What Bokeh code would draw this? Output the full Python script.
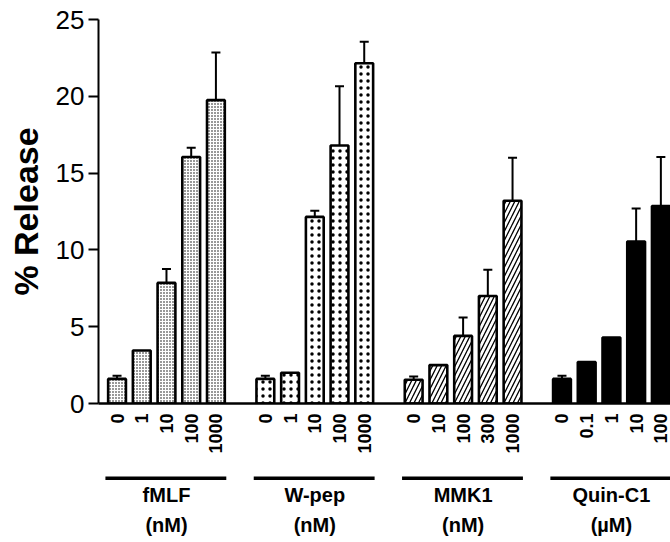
import math
from bokeh.plotting import figure
from bokeh.models import (ColumnDataSource, Range1d, FixedTicker, Whisker, TeeHead)
from bokeh.layouts import column
from bokeh.core.properties import value
from bokeh.embed import file_html
from bokeh.resources import INLINE

# ---------------- data ----------------
groups = ["fMLF", "W-pep", "MMK1", "Quin-C1"]
units = ["(nM)", "(nM)", "(nM)", "(\u00b5M)"]

fmlf_conc = ["0", "1", "10", "100", "1000"]
wpep_conc = ["0", "1", "10", "100", "1000"]
mmk1_conc = ["0", "10", "100", "300", "1000"]
quin_conc = ["0", "0.1", "1", "10", "100"]

fmlf_release = [1.6, 3.45, 7.85, 16.05, 19.75]
wpep_release = [1.6, 2.0, 12.15, 16.8, 22.15]
mmk1_release = [1.55, 2.5, 4.4, 7.0, 13.2]
quin_release = [1.6, 2.7, 4.3, 10.55, 12.85]

fmlf_sem = [0.2, 0.0, 0.9, 0.6, 3.1]
wpep_sem = [0.2, 0.0, 0.4, 3.85, 1.4]
mmk1_sem = [0.2, 0.0, 1.2, 1.7, 2.8]
quin_sem = [0.2, 0.0, 0.0, 2.15, 3.2]

y_ticks = [0, 5, 10, 15, 20, 25]

conc_all = [fmlf_conc, wpep_conc, mmk1_conc, quin_conc]
rel_all = [fmlf_release, wpep_release, mmk1_release, quin_release]
sem_all = [fmlf_sem, wpep_sem, mmk1_sem, quin_sem]

# ---------------- styles ----------------
FONT = "Liberation Sans"
group_styles = [
    dict(fill_color="white", hatch_pattern="dot", hatch_scale=3, hatch_weight=1.0, hatch_color="black"),
    dict(fill_color="white", hatch_pattern="dot", hatch_scale=7, hatch_weight=0.6, hatch_color="black"),
    dict(fill_color="white", hatch_pattern="right_diagonal_line", hatch_scale=9, hatch_weight=1.3, hatch_color="black"),
    dict(fill_color="black", hatch_pattern=None),
]
SLOT = 6  # 5 bars + 1 gap per group

x_range = Range1d(-0.75, 22.39)

p = figure(width=670, height=463, x_range=x_range, y_range=Range1d(0, 25),
           output_backend="svg", toolbar_location=None,
           min_border_left=98, min_border_right=0, min_border_top=19, min_border_bottom=60)
p.outline_line_color = None
p.xgrid.visible = False
p.ygrid.visible = False
p.background_fill_color = "white"
p.border_fill_color = "white"

ticks = []
overrides = {}
for g in range(len(groups)):
    xs = [g * SLOT + i for i in range(len(rel_all[g]))]
    src = ColumnDataSource(dict(x=xs, top=rel_all[g]))
    st = group_styles[g]
    kw = dict(x="x", top="top", bottom=0, width=0.72, source=src,
              line_color="black", line_width=2.6, fill_color=st["fill_color"])
    if st.get("hatch_pattern"):
        kw.update(hatch_pattern=st["hatch_pattern"], hatch_scale=st["hatch_scale"],
                  hatch_weight=st["hatch_weight"], hatch_color=st["hatch_color"])
    p.vbar(**kw)
    ex, elo, ehi = [], [], []
    for x, v, e in zip(xs, rel_all[g], sem_all[g]):
        if e > 0:
            ex.append(x); elo.append(v); ehi.append(v + e)
    esrc = ColumnDataSource(dict(x=ex, lower=elo, upper=ehi))
    p.add_layout(Whisker(source=esrc, base="x", lower="lower", upper="upper",
                         line_width=2, line_color="black", lower_head=None,
                         upper_head=TeeHead(size=9, line_width=2, line_color="black")))
    for x, lab in zip(xs, conc_all[g]):
        ticks.append(x)
        overrides[x] = lab

# x axis
xa = p.xaxis[0]
xa.ticker = FixedTicker(ticks=ticks)
xa.major_label_overrides = overrides
xa.major_label_orientation = math.pi / 2
xa.major_label_text_font = FONT
xa.major_label_text_font_style = "bold"
xa.major_label_text_font_size = "18px"
xa.major_label_text_color = "black"
xa.major_label_standoff = 10
xa.major_tick_out = 0
xa.major_tick_in = 0
xa.minor_tick_out = 0
xa.minor_tick_in = 0
xa.axis_line_width = 2.5
xa.axis_line_color = "black"

# y axis
ya = p.yaxis[0]
ya.ticker = FixedTicker(ticks=y_ticks)
ya.major_label_text_font = FONT
ya.major_label_text_font_size = "26px"
ya.major_label_text_color = "black"
ya.major_label_standoff = 4
ya.major_tick_out = 10
ya.major_tick_in = 0
ya.minor_tick_out = 0
ya.minor_tick_in = 0
ya.major_tick_line_width = 2
ya.axis_line_width = 2
ya.axis_line_color = "black"
ya.major_tick_line_color = "black"
ya.axis_label = "% Release"
ya.axis_label_text_font = FONT
ya.axis_label_text_font_style = "bold"
ya.axis_label_text_font_size = "34px"
ya.axis_label_text_color = "black"
ya.axis_label_standoff = 8

# ---------------- group labels panel ----------------
q = figure(width=670, height=79, x_range=x_range, y_range=Range1d(79, 0),
           output_backend="svg", toolbar_location=None,
           min_border_left=98, min_border_right=0, min_border_top=0, min_border_bottom=0)
q.axis.visible = False
q.xgrid.visible = False
q.ygrid.visible = False
q.outline_line_color = None
q.background_fill_color = "white"
q.border_fill_color = "white"

gx0 = [g * SLOT - 0.47 for g in range(len(groups))]
gx1 = [g * SLOT + len(rel_all[g]) - 1 + 0.42 for g in range(len(groups))]
gxc = [g * SLOT + (len(rel_all[g]) - 1) / 2 for g in range(len(groups))]
q.segment(x0=gx0, x1=gx1, y0=[14.7] * 4, y1=[14.7] * 4, line_color="black", line_width=3.5)
q.text(x=gxc, y=[20] * 4, text=groups, text_font=value(FONT), text_font_style="bold",
       text_font_size="20px", text_align="center", text_baseline="top", text_color="black")
q.text(x=gxc, y=[50] * 4, text=units, text_font=value(FONT), text_font_style="bold",
       text_font_size="20px", text_align="center", text_baseline="top", text_color="black")

layout = column(p, q, spacing=0)
open("out.html", "w").write(file_html(layout, INLINE))
